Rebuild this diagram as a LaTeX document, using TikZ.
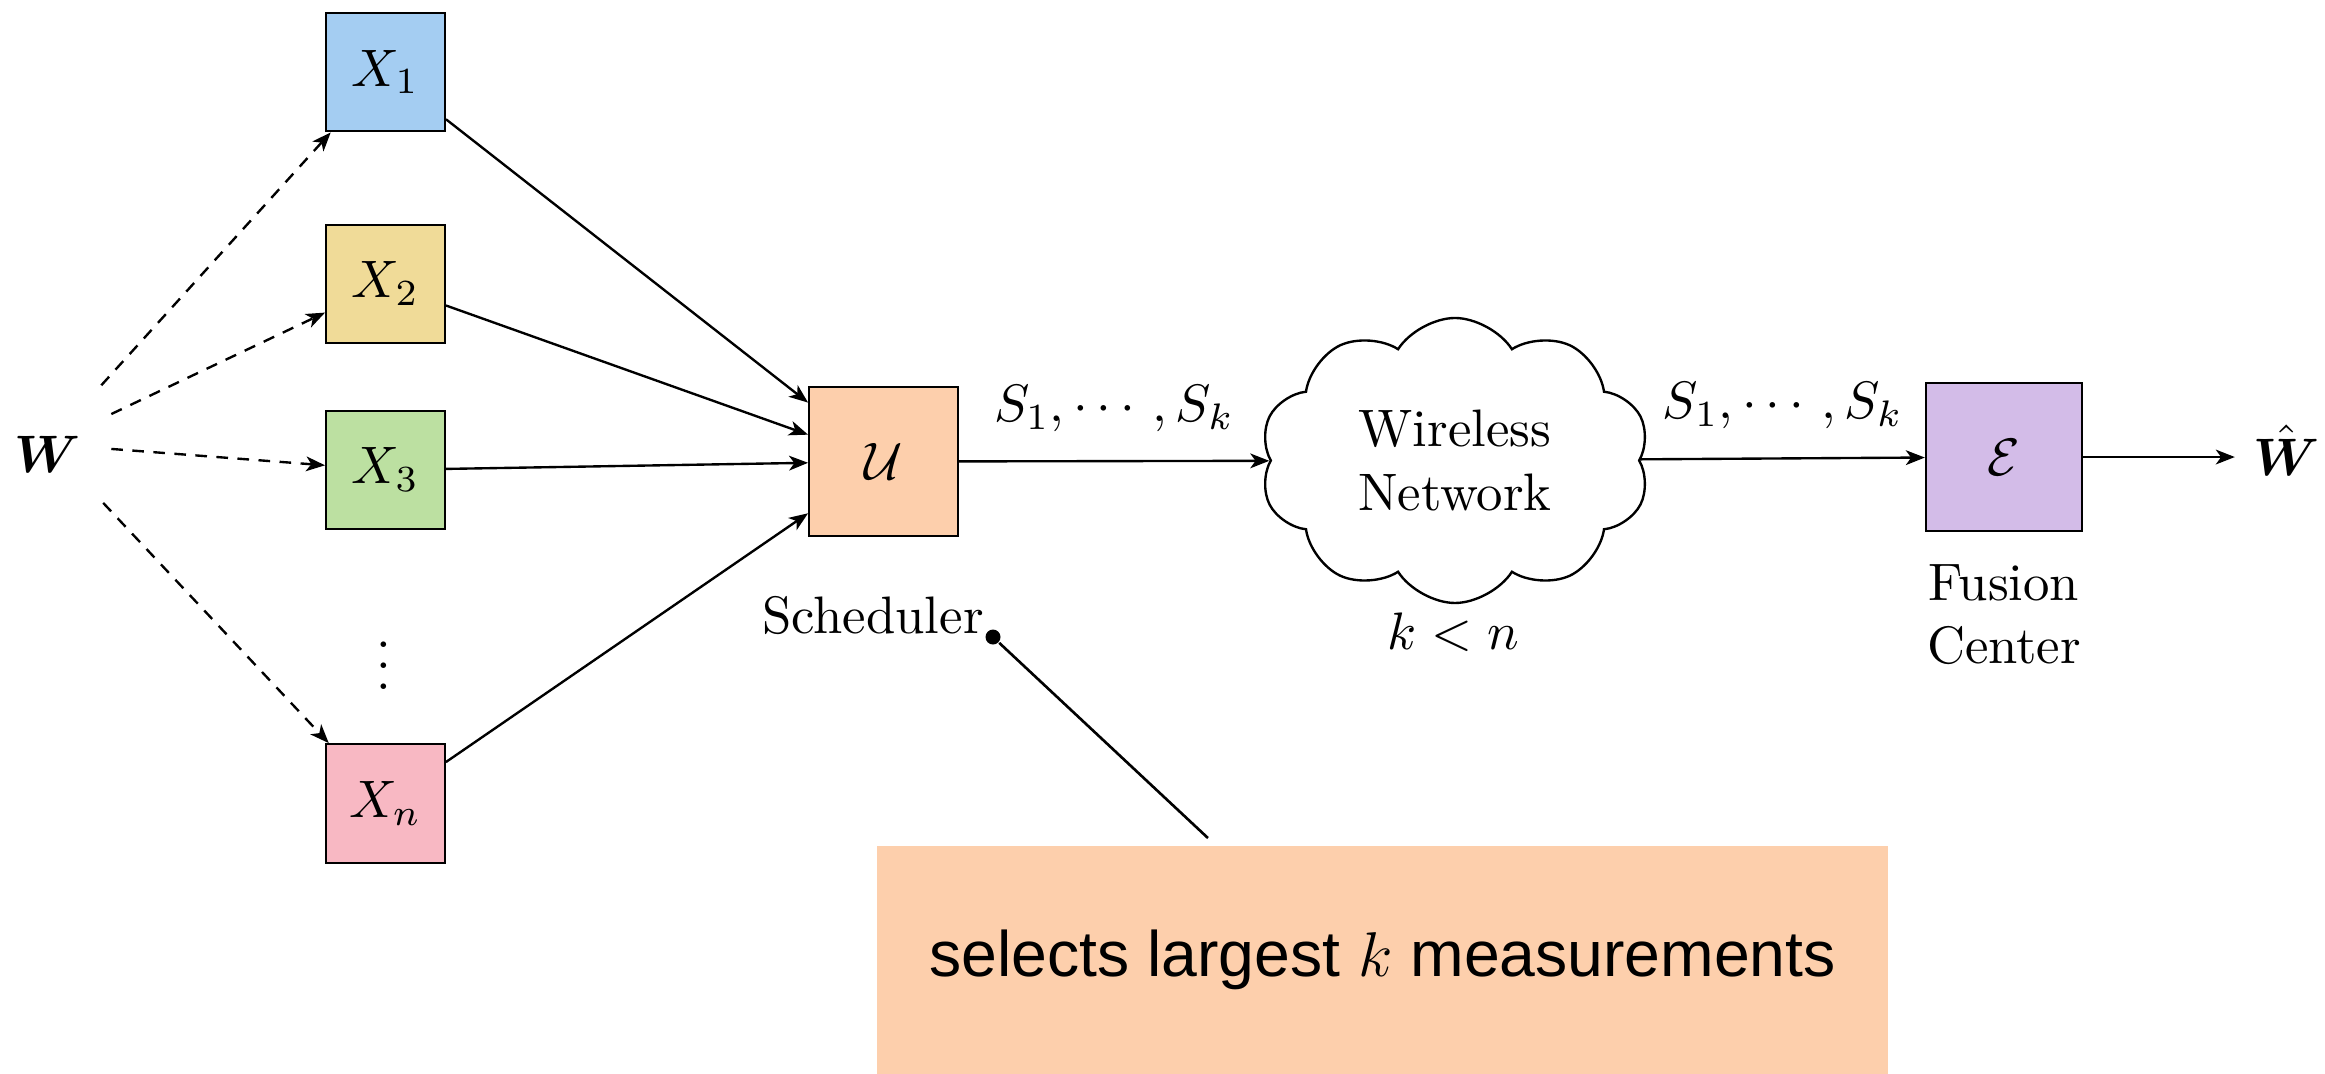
\documentclass[tikz,border=0pt]{standalone}
\usepackage{amsmath,amssymb}
\usepackage{fontspec}
\usetikzlibrary{arrows.meta,positioning,shapes.symbols}
\newfontfamily\notefont{Liberation Sans}
\definecolor{Sky}{HTML}{A4CDF2}
\definecolor{Sand}{HTML}{F0DB98}
\definecolor{Leaf}{HTML}{BCE0A1}
\definecolor{Rose}{HTML}{F8B8C3}
\definecolor{Peach}{HTML}{FDCFAC}
\definecolor{Lilac}{HTML}{D3BCE8}

\begin{document}
\begin{tikzpicture}[
    >={Stealth[length=3.6pt,width=2.8pt,inset=1pt]},
    meas/.style={draw,line width=0.45pt,minimum width=0.79cm,minimum height=0.79cm},
    proc/.style={draw,line width=0.45pt,minimum width=0.99cm,minimum height=0.99cm},
    feed/.style={->,dash pattern=on 2.2pt off 1.8pt,line width=0.45pt},
    link/.style={->,line width=0.45pt}
  ]
    \useasboundingbox (0,0) rectangle (15.5,7.16);
    % source and the sensors
    \node[anchor=base,minimum width=0.83cm,minimum height=0.77cm,
      text height=10.6pt,text depth=0pt] (W) at (0.32,4.013) {$\boldsymbol{W}$};
    \foreach \n/\y/\c in {1/6.68/Sky,2/5.267/Sand,3/4.027/Leaf,n/1.803/Rose}
      \node[meas,fill=\c] (X\n) at (2.57,\y) {$X_{\n}$};
    \node (dots) at (2.56,2.827) {$\vdots$};
    % scheduler, channel, fusion
    \node[proc,fill=Peach] (U) at (5.89,4.083) {$\mathcal{U}$};
    \node[below=0.27cm of U,xshift=-0.07cm] (sched) {Scheduler};
    \node[cloud,draw,line width=0.45pt,cloud puffs=10,cloud puff arc=115,cloud ignores aspect,
      minimum width=2.6cm,minimum height=1.9cm,align=center] (net) at (9.70,4.09)
      {Wireless\\Network};
    \node[anchor=base] (cond) at (9.69,2.833) {$k<n$};
    \node[proc,fill=Lilac,minimum width=1.04cm] (E) at (13.36,4.113) {$\mathcal{E}$};
    \node[below=0.09cm of E,align=center] (fc) {Fusion\\Center};
    \node[anchor=base] (What) at (15.243,3.993) {$\hat{\boldsymbol{W}}$};
    \foreach \n in {1,2,3,n} {
      \draw[feed] (W) -- (X\n);
      \draw[link] (X\n) -- (U);
    }
    \draw[link] (U) -- node[midway,above=2pt] (lab1) {$S_1,\cdots,S_k$} (net);
    \draw[link] (net) -- node[midway,above=2pt] (lab2) {$S_1,\cdots,S_k$} (E);
    \draw[link] (E) -- (E -| What.west);
    % callout
    \node[fill=Peach,minimum width=6.74cm,minimum height=1.52cm,
      font=\notefont\fontsize{12.2}{14}\selectfont] (note) at (9.217,0.76)
      {selects largest $k$ measurements};
    \node[circle,fill,inner sep=0pt,minimum size=0.1cm] (dot) at (6.62,2.913) {};
    \coordinate (pin) at (8.053,1.573);
    \draw[line width=0.5pt] (dot) -- (pin);
  \end{tikzpicture}
\end{document}
